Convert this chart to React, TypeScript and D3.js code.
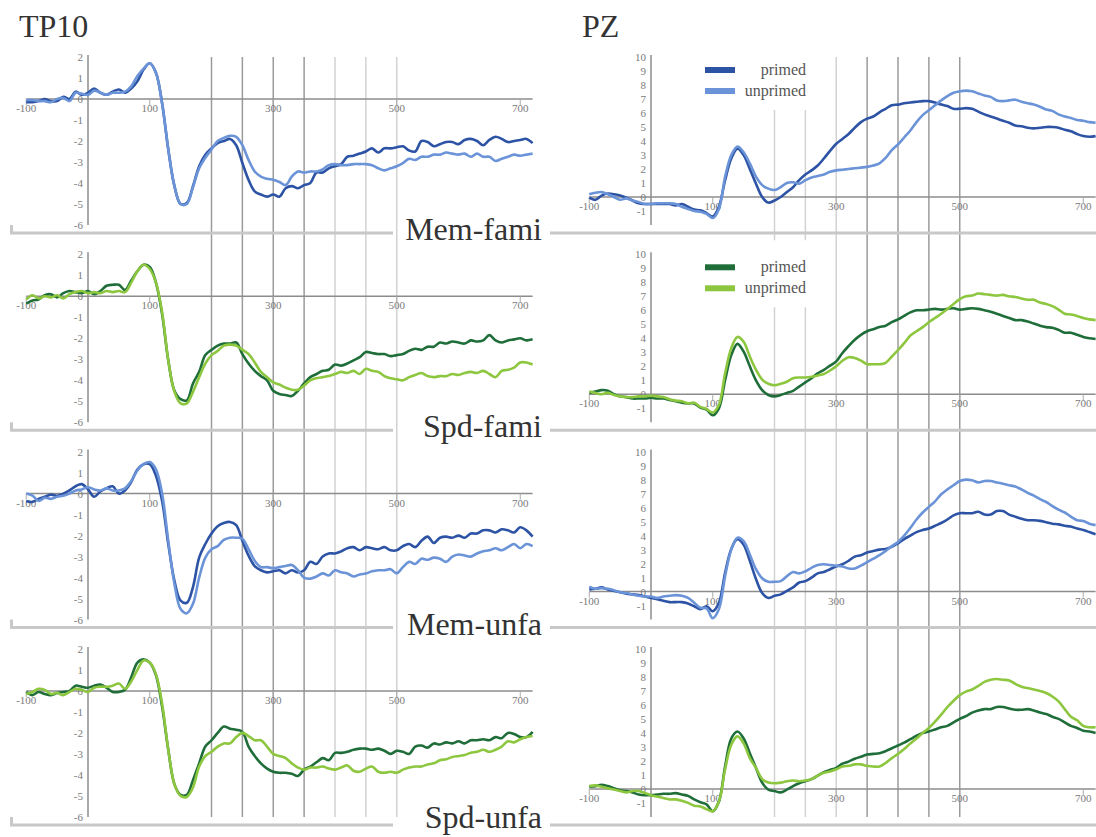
import React from "react";
import * as d3 from "d3";

// time grid (ms), one sample every 10 ms
const times = d3.range(-100, 721, 10);
const xTickValues = [-100, 100, 300, 500, 700];
const tp10Ticks = [2, 1, 0, -1, -2, -3, -4, -5, -6];
const pzTicks = [10, 9, 8, 7, 6, 5, 4, 3, 2, 1, 0, -1];
const conditions = ["Mem-fami", "Spd-fami", "Mem-unfa", "Spd-unfa"];
const seriesNames = ["primed", "unprimed"];
const leftRefDark = [200, 250, 300, 350];
const leftRefLight = [400, 450, 500];
const rightRefLight = [200, 250, 300];
const rightRefDark = [350, 400, 450, 500];

// TP10 (µV)
const tp10MemFamiPrimed = [
  -0.15, -0.15, -0.1, 0, -0.1, -0.1, 0.1, 0, 0.35, 0.2,
  0.3, 0.5, 0.3, 0.2, 0.35, 0.45, 0.3, 0.5, 0.85, 1.4,
  1.7, 1.25, -0.2, -2.4, -4.15, -5.0, -4.95, -4.15, -3.2, -2.65,
  -2.35, -2.1, -2.0, -1.9, -2.2, -3.05, -3.85, -4.4, -4.55, -4.65,
  -4.55, -4.65, -4.25, -4.15, -4.25, -4.1, -4.0, -3.5, -3.5, -3.3,
  -3.2, -3.1, -2.75, -2.7, -2.6, -2.5, -2.35, -2.55, -2.35, -2.35,
  -2.3, -2.25, -2.45, -2.5, -2.0, -2.05, -2.25, -2.15, -2.05, -2.05,
  -2.15, -1.95, -1.9, -2.0, -2.2, -1.95, -1.8, -1.9, -2.05, -2.0,
  -1.95, -1.9, -2.1,
];
const tp10MemFamiUnprimed = [
  -0.05, -0.05, -0.1, -0.1, -0.15, 0, 0.05, -0.1, 0.3, 0.25,
  0.2, 0.4, 0.3, 0.2, 0.3, 0.3, 0.35, 0.6, 1.1, 1.45,
  1.7, 1.25, -0.2, -2.4, -4.15, -5.0, -5.0, -4.2, -3.3, -2.8,
  -2.4, -2.0, -1.85, -1.75, -1.8, -2.2, -2.9, -3.45, -3.7, -3.8,
  -3.85, -3.95, -4.1, -3.7, -3.45, -3.5, -3.45, -3.45, -3.35, -3.15,
  -3.1, -3.15, -3.15, -3.1, -3.1, -3.1, -3.15, -3.3, -3.4, -3.3,
  -3.2, -3.05, -2.85, -2.9, -2.75, -2.75, -2.65, -2.65, -2.55, -2.6,
  -2.65, -2.6, -2.75, -2.6, -2.75, -2.75, -2.95, -2.85, -2.75, -2.65,
  -2.7, -2.65, -2.6,
];
const tp10SpdFamiPrimed = [
  -0.35, -0.2, -0.15, 0.05, 0.1, -0.05, 0.15, 0.25, 0.2, 0.15,
  0.25, 0.1, 0.25, 0.5, 0.55, 0.55, 0.3, 0.75, 1.2, 1.5,
  1.4, 0.65, -0.85, -3.05, -4.5, -4.9, -4.95, -4.15, -3.6, -2.8,
  -2.55, -2.35, -2.25, -2.25, -2.2, -2.75, -3.2, -3.55, -3.8, -4.0,
  -4.5, -4.65, -4.7, -4.75, -4.5, -4.15, -3.85, -3.7, -3.55, -3.5,
  -3.25, -3.3, -3.2, -3.05, -2.9, -2.65, -2.7, -2.75, -2.75, -2.85,
  -2.8, -2.75, -2.6, -2.5, -2.55, -2.4, -2.4, -2.2, -2.25, -2.15,
  -2.2, -2.25, -2.1, -2.15, -2.1, -1.85, -2.1, -2.2, -2.1, -2.05,
  -2.0, -2.1, -2.05,
];
const tp10SpdFamiUnprimed = [
  -0.15, 0.05, -0.1, 0, -0.05, 0.05, -0.1, 0.1, 0.2, 0.25,
  0.15, 0.2, 0.15, 0.25, 0.2, 0.25, 0.2, 0.65, 1.2, 1.5,
  1.3, 0.65, -0.75, -3.05, -4.55, -5.1, -5.1, -4.55, -3.85, -3.2,
  -2.8, -2.6, -2.35, -2.3, -2.35, -2.55, -2.75, -3.15, -3.6, -3.85,
  -4.1, -4.2, -4.35, -4.45, -4.45, -4.25, -4.0, -3.9, -3.85, -3.8,
  -3.7, -3.6, -3.65, -3.55, -3.7, -3.45, -3.55, -3.6, -3.8, -3.9,
  -3.95, -4.0, -3.85, -3.75, -3.65, -3.8, -3.85, -3.8, -3.8, -3.7,
  -3.75, -3.65, -3.6, -3.65, -3.55, -3.7, -3.85, -3.55, -3.5, -3.4,
  -3.15, -3.15, -3.25,
];
const tp10MemUnfaPrimed = [
  -0.35, -0.4, -0.25, -0.15, -0.05, -0.1, 0, 0.15, 0.35, 0.45,
  0.2, -0.15, 0.1, 0.25, 0.35, 0, 0.15, 0.55, 1.15, 1.4,
  1.4, 0.85, -0.35, -2.4, -4.15, -5.1, -5.2, -4.45, -3.05, -2.4,
  -1.9, -1.55, -1.4, -1.35, -1.5, -2.25, -2.95, -3.45, -3.65, -3.75,
  -3.7, -3.65, -3.8, -3.65, -3.75, -3.65, -3.25, -3.35, -3.0, -2.85,
  -2.85, -2.75, -2.6, -2.55, -2.7, -2.55, -2.6, -2.65, -2.55, -2.7,
  -2.7, -2.5, -2.4, -2.55, -2.25, -2.05, -2.35, -2.1, -2.05, -2.1,
  -2.0, -2.1, -1.9, -1.9, -1.75, -1.75, -1.85, -1.7, -1.75, -1.85,
  -1.6, -1.75, -2.05,
];
const tp10MemUnfaUnprimed = [
  0, -0.1, -0.35, -0.2, -0.25, -0.15, -0.1, 0, 0.15, 0.2,
  0.3, 0.2, 0.15, 0.25, 0.15, 0.15, 0.25, 0.6, 1.1, 1.4,
  1.5, 1.15, 0, -2.25, -4.3, -5.5, -5.7, -5.25, -4.0, -3.05,
  -2.65, -2.5, -2.2, -2.1, -2.1, -2.15, -2.65, -3.2, -3.5, -3.5,
  -3.55, -3.5, -3.45, -3.4, -3.65, -4.0, -4.05, -3.95, -3.8, -3.9,
  -3.65, -3.75, -3.8, -3.95, -3.85, -3.8, -3.7, -3.65, -3.65, -3.6,
  -3.8, -3.5, -3.25, -3.35, -3.1, -3.15, -3.05, -3.1, -3.25, -3.0,
  -2.9, -2.95, -3.0, -2.85, -2.75, -2.7, -2.6, -2.7, -2.55, -2.4,
  -2.6, -2.4, -2.5,
];
const tp10SpdUnfaPrimed = [
  -0.05, -0.2, -0.05, -0.15, -0.2, -0.1, -0.05, 0, 0.25, 0.2,
  0.15, 0.25, 0.3, 0.15, -0.05, -0.05, 0.05, 0.65, 1.35, 1.5,
  1.35, 0.75, -0.75, -2.8, -4.45, -4.95, -4.95, -4.25, -3.45, -2.65,
  -2.35, -2.0, -1.7, -1.8, -1.85, -1.95, -2.65, -3.1, -3.45, -3.7,
  -3.85, -3.9, -3.9, -3.95, -4.05, -3.75, -3.6, -3.4, -3.2, -3.3,
  -2.95, -2.95, -2.9, -2.8, -2.75, -2.75, -2.8, -2.75, -2.85, -3.0,
  -2.85, -2.9, -3.0, -2.65, -2.6, -2.7, -2.5, -2.55, -2.45, -2.5,
  -2.4, -2.5, -2.35, -2.35, -2.3, -2.35, -2.2, -2.25, -2.0, -2.05,
  -2.2, -2.2, -1.95,
];
const tp10SpdUnfaUnprimed = [
  -0.15, -0.05, 0.1, 0.05, -0.15, -0.1, -0.2, -0.05, 0.1, 0.05,
  -0.05, 0.15, 0.2, 0.2, 0.25, 0.35, 0.1, 0.45, 1.0, 1.45,
  1.35, 0.8, -0.6, -2.8, -4.45, -5.0, -5.05, -4.6, -3.6, -3.1,
  -2.9, -2.65, -2.5, -2.5, -2.2, -2.0, -2.15, -2.35, -2.35, -2.65,
  -3.0, -3.1, -3.2, -3.45, -3.65, -3.75, -3.65, -3.65, -3.6, -3.7,
  -3.75, -3.65, -3.55, -3.8, -3.85, -3.7, -3.6, -3.85, -3.9, -3.85,
  -3.9, -3.75, -3.65, -3.6, -3.6, -3.5, -3.45, -3.3, -3.25, -3.15,
  -3.1, -3.05, -2.95, -2.9, -2.8, -2.9, -2.8, -2.65, -2.4, -2.45,
  -2.3, -2.2, -2.15,
];

// PZ (µV)
const pzMemFamiPrimed = [
  -0.05, -0.2, 0.1, 0.25, 0.2, 0.1, -0.05, -0.25, -0.45, -0.5,
  -0.5, -0.5, -0.5, -0.5, -0.6, -0.5, -0.7, -0.9, -0.95, -1.15,
  -1.4, -0.7, 1.2, 2.75, 3.45, 3.0, 2.0, 0.95, 0, -0.4,
  -0.25, 0, 0.35, 0.7, 1.2, 1.6, 1.9, 2.25, 2.75, 3.3,
  3.8, 4.15, 4.5, 4.95, 5.35, 5.6, 5.75, 6.05, 6.3, 6.55,
  6.6, 6.7, 6.75, 6.8, 6.85, 6.85, 6.75, 6.6, 6.5, 6.3,
  6.3, 6.35, 6.3, 6.1, 5.9, 5.75, 5.6, 5.45, 5.3, 5.1,
  5.05, 4.95, 4.9, 4.95, 5.0, 5.0, 4.95, 4.8, 4.7, 4.5,
  4.35, 4.3, 4.35,
];
const pzMemFamiUnprimed = [
  0.2, 0.3, 0.35, 0.2, 0, -0.2, -0.1, -0.25, -0.35, -0.5,
  -0.5, -0.45, -0.45, -0.45, -0.5, -0.7, -0.85, -1.0, -1.05, -1.2,
  -1.5, -0.85, 1.45, 3.0, 3.6, 3.2, 2.4, 1.45, 0.85, 0.6,
  0.5, 0.7, 1.0, 1.05, 0.95, 1.2, 1.4, 1.5, 1.6, 1.8,
  1.9, 1.95, 2.0, 2.05, 2.1, 2.15, 2.25, 2.4, 2.8, 3.35,
  3.75, 4.25, 4.75, 5.35, 5.85, 6.2, 6.55, 6.9, 7.2, 7.45,
  7.55, 7.6, 7.55, 7.4, 7.25, 7.15, 6.9, 6.85, 6.9, 6.95,
  6.8, 6.7, 6.6, 6.45, 6.25, 6.15, 5.9, 5.75, 5.65, 5.5,
  5.45, 5.35, 5.3,
];
const pzSpdFamiPrimed = [
  0.1, 0.2, 0.3, 0.25, 0, -0.15, -0.2, -0.3, -0.3, -0.3,
  -0.25, -0.3, -0.3, -0.4, -0.5, -0.6, -0.65, -0.65, -0.95, -1.1,
  -1.5, -1.0, 1.0, 2.8, 3.6, 3.05, 2.0, 1.0, 0.3, -0.05,
  -0.15, -0.05, 0.1, 0.25, 0.55, 0.85, 1.15, 1.5, 1.75, 2.05,
  2.35, 2.95, 3.45, 3.9, 4.25, 4.5, 4.65, 4.8, 4.9, 5.15,
  5.35, 5.6, 5.85, 6.0, 6.0, 6.05, 6.1, 6.05, 6.1, 6.15,
  6.05, 6.1, 6.15, 6.1, 6.0, 5.9, 5.75, 5.6, 5.45, 5.3,
  5.3, 5.2, 5.05, 4.9, 4.8, 4.75, 4.6, 4.4, 4.4, 4.25,
  4.1, 4.0, 3.95,
];
const pzSpdFamiUnprimed = [
  0.2, 0.1, 0, 0.1, -0.05, -0.15, -0.2, -0.2, -0.15, -0.15,
  -0.1, -0.15, -0.2, -0.35, -0.45, -0.5, -0.65, -0.6, -0.9, -1.05,
  -1.3, -0.75, 1.5, 3.3, 4.1, 3.75, 2.7, 1.75, 1.05, 0.75,
  0.65, 0.75, 0.9, 1.15, 1.2, 1.2, 1.25, 1.35, 1.45, 1.7,
  2.0, 2.4, 2.65, 2.6, 2.4, 2.15, 2.15, 2.15, 2.25, 2.7,
  3.15, 3.65, 4.2, 4.5, 4.8, 5.15, 5.45, 5.75, 6.1, 6.45,
  6.8, 7.0, 7.05, 7.2, 7.15, 7.1, 7.05, 7.1, 7.0, 6.95,
  6.85, 6.75, 6.75, 6.55, 6.45, 6.3, 6.05, 5.75, 5.7, 5.6,
  5.45, 5.35, 5.3,
];
const pzMemUnfaPrimed = [
  0.15, 0.2, 0.3, 0.15, 0.05, -0.05, -0.15, -0.2, -0.25, -0.35,
  -0.45, -0.55, -0.65, -0.75, -0.75, -0.75, -0.85, -1.05, -1.25, -1.05,
  -1.4, -0.8, 1.35, 3.05, 3.75, 3.35, 2.2, 0.9, -0.1, -0.45,
  -0.3, -0.2, 0.05, 0.3, 0.65, 0.75, 1.0, 1.3, 1.4, 1.6,
  1.8, 1.95, 2.2, 2.5, 2.6, 2.8, 2.9, 3.0, 3.05, 3.2,
  3.45, 3.75, 4.0, 4.25, 4.4, 4.5, 4.7, 4.9, 5.15, 5.45,
  5.6, 5.6, 5.6, 5.7, 5.5, 5.5, 5.75, 5.75, 5.5, 5.35,
  5.2, 5.1, 5.1, 5.05, 4.95, 4.85, 4.8, 4.7, 4.65, 4.5,
  4.4, 4.25, 4.1,
];
const pzMemUnfaUnprimed = [
  0.35, 0.2, 0.25, 0.2, 0.1, -0.05, -0.1, -0.2, -0.3, -0.35,
  -0.35, -0.45, -0.35, -0.3, -0.25, -0.3, -0.45, -0.8, -1.15, -1.2,
  -1.9, -1.25, 1.1, 3.0, 3.85, 3.6, 2.65, 1.6, 0.95, 0.7,
  0.7, 0.75, 1.1, 1.4, 1.3, 1.45, 1.7, 1.9, 1.95, 1.9,
  1.85, 1.8, 1.65, 1.65, 1.85, 2.1, 2.35, 2.6, 2.9, 3.25,
  3.55, 4.0, 4.55, 5.15, 5.65, 6.05, 6.45, 6.95, 7.3, 7.6,
  7.9, 8.0, 7.95, 7.8, 7.9, 7.9, 7.8, 7.7, 7.6, 7.5,
  7.3, 7.05, 6.85, 6.6, 6.4, 6.1, 5.85, 5.65, 5.35, 5.1,
  5.05, 4.85, 4.75,
];
const pzSpdUnfaPrimed = [
  0.15, 0.2, 0.3, 0.2, 0.05, -0.1, -0.15, -0.25, -0.4, -0.45,
  -0.45, -0.4, -0.35, -0.35, -0.3, -0.4, -0.5, -0.75, -0.95, -1.1,
  -1.6, -0.9, 1.6, 3.6, 4.1, 3.6, 2.55, 1.5, 0.45, -0.05,
  -0.15, -0.25, -0.05, 0.2, 0.4, 0.55, 0.7, 0.95, 1.2, 1.35,
  1.5, 1.8, 1.95, 2.15, 2.3, 2.45, 2.5, 2.55, 2.7, 2.9,
  3.1, 3.3, 3.55, 3.8, 4.0, 4.1, 4.25, 4.4, 4.5, 4.75,
  5.0, 5.2, 5.45, 5.6, 5.7, 5.7, 5.85, 5.85, 5.75, 5.65,
  5.65, 5.7, 5.6, 5.45, 5.35, 5.15, 5.0, 4.75, 4.5, 4.35,
  4.15, 4.1, 4.0,
];
const pzSpdUnfaUnprimed = [
  0.2, 0.25, 0.15, 0.05, -0.05, -0.15, -0.25, -0.15, -0.15, -0.3,
  -0.45, -0.55, -0.65, -0.75, -0.75, -0.85, -1.0, -1.2, -1.25, -1.45,
  -1.6, -0.9, 1.4, 3.15, 3.75, 3.25, 2.2, 1.5, 0.7, 0.45,
  0.4, 0.45, 0.55, 0.6, 0.55, 0.6, 0.7, 0.95, 1.15, 1.25,
  1.4, 1.6, 1.65, 1.75, 1.75, 1.65, 1.6, 1.6, 1.85, 2.2,
  2.5, 2.85, 3.25, 3.6, 4.0, 4.35, 4.8, 5.3, 5.85, 6.3,
  6.7, 6.95, 7.1, 7.35, 7.65, 7.8, 7.85, 7.8, 7.75, 7.5,
  7.3, 7.2, 7.1, 7.0, 6.85, 6.6, 6.25, 5.7, 5.15, 4.9,
  4.5, 4.4, 4.4,
];

const tp10Data = [
  [tp10MemFamiPrimed, tp10MemFamiUnprimed],
  [tp10SpdFamiPrimed, tp10SpdFamiUnprimed],
  [tp10MemUnfaPrimed, tp10MemUnfaUnprimed],
  [tp10SpdUnfaPrimed, tp10SpdUnfaUnprimed],
];
const pzData = [
  [pzMemFamiPrimed, pzMemFamiUnprimed],
  [pzSpdFamiPrimed, pzSpdFamiUnprimed],
  [pzMemUnfaPrimed, pzMemUnfaUnprimed],
  [pzSpdUnfaPrimed, pzSpdUnfaUnprimed],
];

const BLUE = ["#2d53a5", "#6b93d7"];
const GREEN = ["#1f6e3a", "#8dc63f"];
const palettes = [BLUE, GREEN, BLUE, GREEN];

const FONT = "'Liberation Serif', 'Times New Roman', serif";
const W = 1096;
const H = 837;
const TOP0 = 57;
const STEP = 197.3;
const PH = 168;
const AXIS = "#8c8c8c";
const LABEL = "#7a7a7a";

const xLeft = d3.scaleLinear().domain([-100, 720]).range([26.25, 532.6]);
const xRight = d3.scaleLinear().domain([-100, 720]).range([589.25, 1095.6]);

const panelTop = (k: number) => TOP0 + k * STEP;

interface PanelProps {
  x: d3.ScaleLinear<number, number>;
  yDomain: [number, number];
  ticks: number[];
  top: number;
  series: number[][];
  colors: string[];
}

const Panel: React.FC<PanelProps> = ({ x, yDomain, ticks, top, series, colors }) => {
  const y = d3.scaleLinear().domain(yDomain).range([top + PH, top]);
  const line = d3
    .line<number>()
    .x((_, i) => x(times[i]))
    .y((d) => y(d))
    .curve(d3.curveCatmullRom.alpha(0.5));
  const y0 = y(0);
  const x0 = x(0);
  const [xa, xb] = x.range();
  return (
    <g>
      {/* x axis */}
      <line x1={xa} x2={xb} y1={y0} y2={y0} stroke={AXIS} strokeWidth={1.5} />
      {xTickValues.map((t) => (
        <g key={t}>
          <line x1={x(t)} x2={x(t)} y1={y0} y2={y0 + 6} stroke="#aaa" strokeWidth={1} />
          <text x={x(t)} y={y0 + 13} textAnchor="middle" fontSize={11} fill={LABEL} fontFamily={FONT}>
            {t}
          </text>
        </g>
      ))}
      {/* y axis */}
      <line x1={x0} x2={x0} y1={top - 2} y2={top + PH} stroke={AXIS} strokeWidth={1.5} />
      {ticks.map((v) => (
        <text key={v} x={x0 - 5} y={y(v) + 4} textAnchor="end" fontSize={11} fill={LABEL} fontFamily={FONT}>
          {v}
        </text>
      ))}
      {series.map((s, i) => (
        <path key={i} d={line(s) ?? ""} fill="none" stroke={colors[i]} strokeWidth={2.6} strokeLinejoin="round" />
      ))}
    </g>
  );
};

const App: React.FC = () => {
  const refTop = TOP0;
  const refBottom = panelTop(3) + PH;
  return (
    <svg
      width={W}
      height={H}
      style={{ position: "absolute", left: 0, top: 0, background: "#fff" }}
      fontFamily={FONT}
    >
      <rect width={W} height={H} fill="#fff" />

      {/* reference latency lines */}
      {leftRefDark.map((t) => (
        <line key={"ld" + t} x1={xLeft(t)} x2={xLeft(t)} y1={refTop} y2={refBottom} stroke="#9b9b9b" strokeWidth={1.5} />
      ))}
      {leftRefLight.map((t) => (
        <line key={"ll" + t} x1={xLeft(t)} x2={xLeft(t)} y1={refTop} y2={refBottom} stroke="#d2d2d2" strokeWidth={1.5} />
      ))}
      {rightRefLight.map((t) => (
        <line key={"rl" + t} x1={xRight(t)} x2={xRight(t)} y1={refTop} y2={refBottom} stroke="#d2d2d2" strokeWidth={1.5} />
      ))}
      {rightRefDark.map((t) => (
        <line key={"rd" + t} x1={xRight(t)} x2={xRight(t)} y1={refTop} y2={refBottom} stroke="#9b9b9b" strokeWidth={1.5} />
      ))}

      {/* titles */}
      <text x={19} y={37} fontSize={32} fill="#333">TP10</text>
      <text x={582} y={37} fontSize={32} fill="#333">PZ</text>

      {/* separators and condition labels */}
      {conditions.map((c, k) => {
        const sy = 233 + k * STEP;
        return (
          <g key={c}>
            <line x1={10} x2={393} y1={sy} y2={sy} stroke="#c8c8c8" strokeWidth={3} />
            <line x1={11.5} x2={11.5} y1={sy - 8} y2={sy} stroke="#c8c8c8" strokeWidth={3} />
            <line x1={550} x2={W} y1={sy} y2={sy} stroke="#c8c8c8" strokeWidth={3} />
            <text x={542} y={Math.min(240 + k * STEP, 828)} textAnchor="end" fontSize={32} fill="#333">
              {c}
            </text>
          </g>
        );
      })}

      {/* legends (first two PZ panels) */}
      {[0, 1].map((k) => {
        const top = panelTop(k);
        const colors = palettes[k];
        return (
          <g key={"lg" + k}>
            <rect x={698} y={top - 14} width={116} height={67} fill="#fff" />
            {seriesNames.map((n, i) => (
              <g key={n}>
                <line x1={705} x2={735} y1={top + 13 + i * 21} y2={top + 13 + i * 21} stroke={colors[i]} strokeWidth={6} />
                <text x={806} y={top + 18 + i * 21} textAnchor="end" fontSize={16} fill="#555">
                  {n}
                </text>
              </g>
            ))}
          </g>
        );
      })}

      {conditions.map((c, k) => (
        <g key={"p" + c}>
          <Panel x={xLeft} yDomain={[-6, 2]} ticks={tp10Ticks} top={panelTop(k)} series={tp10Data[k]} colors={palettes[k]} />
          <Panel x={xRight} yDomain={[-2, 10]} ticks={pzTicks} top={panelTop(k)} series={pzData[k]} colors={palettes[k]} />
        </g>
      ))}
    </svg>
  );
};

export default App;
